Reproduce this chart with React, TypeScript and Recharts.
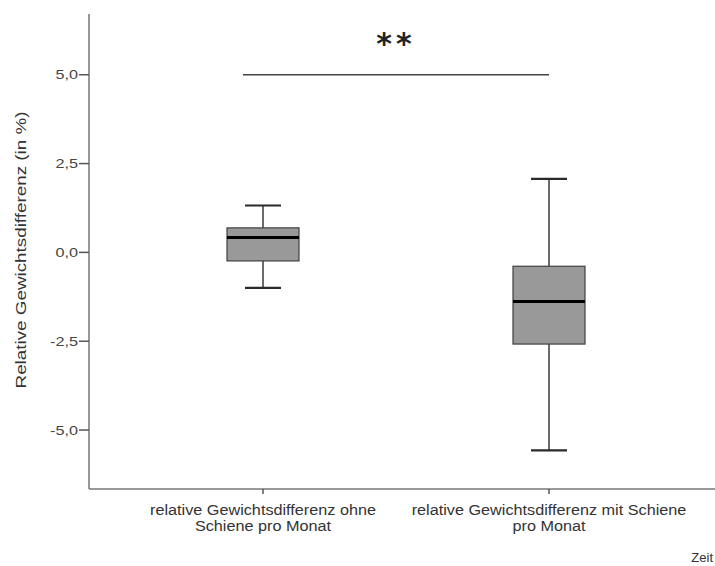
import React from "react";
import {
  ComposedChart,
  Bar,
  XAxis,
  YAxis,
  ReferenceLine,
} from "recharts";

const categories = [
  "relative Gewichtsdifferenz ohne Schiene pro Monat",
  "relative Gewichtsdifferenz mit Schiene pro Monat",
];
const tickLines = [
  ["relative Gewichtsdifferenz ohne", "Schiene pro Monat"],
  ["relative Gewichtsdifferenz mit Schiene", "pro Monat"],
];
const mins = [-1.0, -5.57];
const q1s = [-0.24, -2.58];
const medians = [0.42, -1.38];
const q3s = [0.69, -0.39];
const maxs = [1.32, 2.07];
const yTicks = [-5, -2.5, 0, 2.5, 5];

const data = categories.map((name, i) => ({
  name,
  min: mins[i],
  q1: q1s[i],
  median: medians[i],
  q3: q3s[i],
  max: maxs[i],
}));

const FONT = "'Liberation Sans', Arial, sans-serif";

const BoxShape = (props: any) => {
  const { x, y, width, height, payload } = props;
  const top = Math.min(y, y + height);
  const h = Math.abs(height);
  const span = payload.max - payload.min;
  const py = (v: number) => top + ((payload.max - v) / span) * h;
  const cx = x + width / 2;
  const cap = width / 2;
  return (
    <g>
      <line x1={cx} x2={cx} y1={py(payload.max)} y2={py(payload.q3)} stroke="#3a3a3a" strokeWidth={1.5} />
      <line x1={cx} x2={cx} y1={py(payload.q1)} y2={py(payload.min)} stroke="#3a3a3a" strokeWidth={1.5} />
      <line x1={cx - cap / 2} x2={cx + cap / 2} y1={py(payload.max)} y2={py(payload.max)} stroke="#2a2a2a" strokeWidth={2.2} />
      <line x1={cx - cap / 2} x2={cx + cap / 2} y1={py(payload.min)} y2={py(payload.min)} stroke="#2a2a2a" strokeWidth={2.2} />
      <rect
        x={x}
        y={py(payload.q3)}
        width={width}
        height={py(payload.q1) - py(payload.q3)}
        fill="#999999"
        stroke="#404040"
        strokeWidth={1.2}
      />
      <line x1={x} x2={x + width} y1={py(payload.median)} y2={py(payload.median)} stroke="#000" strokeWidth={3} />
    </g>
  );
};

const XTick = (props: any) => {
  const { x, y, index } = props;
  const lines = tickLines[index] || [];
  return (
    <g transform={`translate(${x},${y}) scale(1.12,1)`}>
      <text x={0} y={0} textAnchor="middle" fontFamily={FONT} fontSize={14.5} fill="#333">
        {lines.map((l, i) => (
          <tspan key={i} x={0} dy={i === 0 ? 19 : 16}>
            {l}
          </tspan>
        ))}
      </text>
    </g>
  );
};

const YTick = (props: any) => {
  const { x, y, payload } = props;
  const label = Number(payload.value).toFixed(1).replace(".", ",");
  return (
    <g transform={`translate(${x},${y}) scale(1.3,1)`}>
      <text x={0} y={0} dy={4.5} textAnchor="end" fontFamily={FONT} fontSize={12.5} fill="#444">
        {label}
      </text>
    </g>
  );
};

const YTitle = () => (
  <g transform="translate(26,250) rotate(-90) scale(1.3,1)">
    <text x={0} y={0} textAnchor="middle" fontFamily={FONT} fontSize={14.5} fill="#333">
      Relative Gewichtsdifferenz (in %)
    </text>
  </g>
);

const ZeitLabel = () => (
  <text x={713} y={562} textAnchor="end" fontFamily={FONT} fontSize={13} fill="#333">
    Zeit
  </text>
);

const SigLine = (props: any) => {
  const { x1, x2, y1 } = props;
  const start = x1 - 20;
  return (
    <g>
      <line x1={start} x2={x2} y1={y1} y2={y1} stroke="#444" strokeWidth={1.3} />
      <text
        x={(start + x2) / 2}
        y={y1 - 21}
        textAnchor="middle"
        fontFamily="'DejaVu Sans', sans-serif"
        fontSize={30}
        fontWeight="bold"
        letterSpacing={4}
        fill="#222"
      >
        **
      </text>
    </g>
  );
};

export default function App() {
  return (
    <div style={{ background: "#fff", width: 715, height: 566, overflow: "hidden" }}>
      <style>{"body{margin:0;overflow:hidden;}"}</style>
      <ComposedChart
        width={715}
        height={566}
        data={data}
        margin={{ top: 14, right: 0, bottom: 0, left: 0 }}
        style={{ overflow: "visible" }}
      >
        <XAxis
          dataKey="name"
          padding={{ left: 31, right: 23 }}
          height={77}
          tick={<XTick />}
          tickSize={5}
          axisLine={{ stroke: "#777", strokeWidth: 1.5 }}
          tickLine={{ stroke: "#555", strokeWidth: 1.5 }}
          interval={0}
          label={<ZeitLabel />}
        />
        <YAxis
          type="number"
          domain={[-6.66, 6.71]}
          ticks={yTicks}
          width={89}
          tickSize={10}
          tickMargin={1}
          tick={<YTick />}
          axisLine={{ stroke: "#777", strokeWidth: 1.5 }}
          tickLine={{ stroke: "#555", strokeWidth: 1.5 }}
          label={<YTitle />}
        />
        <Bar
          dataKey={(d: any) => [d.min, d.max]}
          barSize={72}
          shape={<BoxShape />}
          isAnimationActive={false}
        />
        <ReferenceLine
          segment={[
            { x: categories[0], y: 5 },
            { x: categories[1], y: 5 },
          ]}
          shape={<SigLine />}
          ifOverflow="visible"
        />
      </ComposedChart>
    </div>
  );
}
